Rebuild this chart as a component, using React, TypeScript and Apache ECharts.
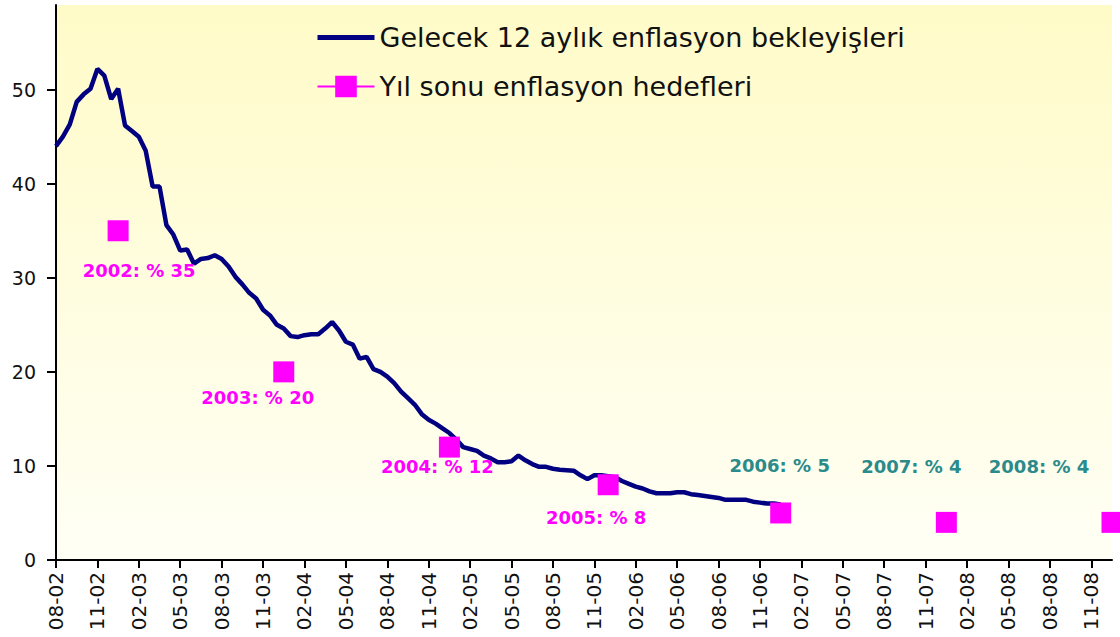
import React, { useEffect, useRef } from 'react';
import * as echarts from 'echarts';

// Half-monthly survey values: "Gelecek 12 aylık enflasyon bekleyişleri" (from 08-02, two readings per month)
const expectations: number[] = [
  44.0, 45.0, 46.3, 48.7, 49.5, 50.1, 52.2, 51.5, 49.0, 50.1,
  46.2, 45.6, 45.0, 43.5, 39.7, 39.7, 35.6, 34.6, 32.9, 33.0,
  31.5, 32.0, 32.1, 32.4, 32.0, 31.2, 30.1, 29.3, 28.4, 27.8,
  26.6, 26.0, 25.0, 24.6, 23.8, 23.7, 23.9, 24.0, 24.0, 24.6,
  25.3, 24.4, 23.2, 22.9, 21.4, 21.6, 20.3, 20.0, 19.5, 18.8,
  17.9, 17.2, 16.5, 15.5, 14.9, 14.5, 14.0, 13.5, 12.8, 12.0,
  11.8, 11.6, 11.1, 10.8, 10.4, 10.4, 10.5, 11.1, 10.6, 10.2,
  9.9, 9.9, 9.7, 9.6, 9.55, 9.5, 9.0, 8.6, 9.0, 9.0,
  8.9, 8.8, 8.4, 8.1, 7.8, 7.6, 7.3, 7.1, 7.1, 7.1,
  7.2, 7.2, 7.0, 6.9, 6.8, 6.7, 6.6, 6.4, 6.4, 6.4,
  6.4, 6.2, 6.1, 6.0, 6.0, 5.9,
];

// Year-end inflation targets
const targetYears: string[] = ['2002', '2003', '2004', '2005', '2006', '2007', '2008'];
const targetValues: number[] = [35, 20, 12, 8, 5, 4, 4];
const targetSlots: number[] = [9, 33, 57, 80, 105, 129, 153]; // half-month slot of each target

// Calendar of the x axis (months from 08-2002 to 01-2009, two slots per month)
const firstMonth = 8;
const firstYear = 2002;
const monthCount = 77;

const seriesNames = ['Gelecek 12 aylık enflasyon bekleyişleri', 'Yıl sonu enflasyon hedefleri'];

const pad = (n: number) => (n < 10 ? '0' + n : '' + n);

function buildCategories(): string[] {
  const out: string[] = [];
  for (let m = 0; m < monthCount; m++) {
    const t = firstMonth - 1 + m;
    const mm = (t % 12) + 1;
    const yy = (firstYear + Math.floor(t / 12)) % 100;
    const name = pad(mm) + '-' + pad(yy);
    out.push(name + ' a');
    out.push(name + ' b');
  }
  return out;
}

const labelOffsets: [number, number][] = [
  [21, 40], [-26, 26], [-12, 19], [-12, 33], [-1, -47], [-35, -56], [-73, -56],
];
const labelColors = ['#FF00FF', '#FF00FF', '#FF00FF', '#FF00FF', '#2B8A8A', '#2B8A8A', '#2B8A8A'];

export default function App() {
  const ref = useRef<HTMLDivElement>(null);

  useEffect(() => {
    if (!ref.current) return;
    const chart = echarts.init(ref.current, undefined, { renderer: 'svg' });
    const categories = buildCategories();

    const targetData: any[] = categories.map(() => null);
    targetSlots.forEach((slot, i) => {
      targetData[slot] = {
        value: targetValues[i],
        label: {
          show: true,
          position: 'inside',
          offset: labelOffsets[i],
          formatter: targetYears[i] + ': % ' + targetValues[i],
          color: labelColors[i],
          fontFamily: 'DejaVu Sans',
          fontWeight: 'bold',
          fontSize: 18,
        },
      };
    });

    const font = 'DejaVu Sans';

    chart.setOption({
      animation: false,
      backgroundColor: '#FFFFFF',
      grid: {
        left: 56,
        right: 8,
        top: 5,
        bottom: 77,
        show: true,
        borderWidth: 0,
        backgroundColor: new echarts.graphic.LinearGradient(0, 0, 0, 1, [
          { offset: 0, color: '#FFFBC8' },
          { offset: 1, color: '#FFFFF5' },
        ]),
      },
      legend: {
        orient: 'vertical',
        left: 315,
        top: 24,
        padding: 0,
        itemWidth: 57,
        itemHeight: 27,
        itemGap: 22,
        itemTextGap: 6,
        textStyle: { fontFamily: font, fontSize: 27, color: '#111111' },
        data: [
          {
            name: seriesNames[0],
            itemStyle: { opacity: 0, color: 'transparent', borderWidth: 0 },
            lineStyle: { width: 5, color: '#000080', opacity: 1 },
          },
          { name: seriesNames[1] },
        ],
      },
      xAxis: {
        type: 'category',
        data: categories,
        boundaryGap: false,
        axisLine: { lineStyle: { color: '#000000', width: 2 } },
        axisTick: { show: true, interval: 5, length: 8, inside: false, lineStyle: { color: '#000000', width: 2 } },
        axisLabel: {
          interval: 5,
          rotate: 90,
          margin: 12,
          fontFamily: font,
          fontSize: 20,
          color: '#111111',
          formatter: (v: string) => v.split(' ')[0],
        },
        splitLine: { show: false },
      },
      yAxis: {
        type: 'value',
        min: 0,
        max: 59,
        interval: 10,
        axisLine: { show: true, lineStyle: { color: '#000000', width: 2 } },
        axisTick: { show: true, length: 9, customValues: [0, 10, 20, 30, 40, 50], lineStyle: { color: '#000000', width: 2 } },
        axisLabel: {
          margin: 20,
          fontFamily: font,
          fontSize: 19,
          color: '#111111',
          customValues: [0, 10, 20, 30, 40, 50],
          formatter: (v: number) => (v % 10 === 0 ? String(v) : ''),
        },
        splitLine: { show: false },
      },
      series: [
        {
          name: seriesNames[0],
          type: 'line',
          data: expectations,
          showSymbol: false,
          symbol: 'none',
          lineStyle: { color: '#000080', width: 4.5 },
          itemStyle: { color: '#000080' },
          z: 2,
        },
        {
          name: seriesNames[1],
          type: 'line',
          data: targetData,
          connectNulls: false,
          symbol: 'rect',
          symbolSize: 21,
          showSymbol: true,
          showAllSymbol: true,
          itemStyle: { color: '#FF00FF' },
          lineStyle: { color: '#FF00FF', width: 1.5 },
          z: 3,
        },
      ],
    });

    return () => chart.dispose();
  }, []);

  return (
    <div
      ref={ref}
      style={{ position: 'fixed', left: 0, top: 0, width: 1120, height: 637, background: '#fff' }}
    />
  );
}
